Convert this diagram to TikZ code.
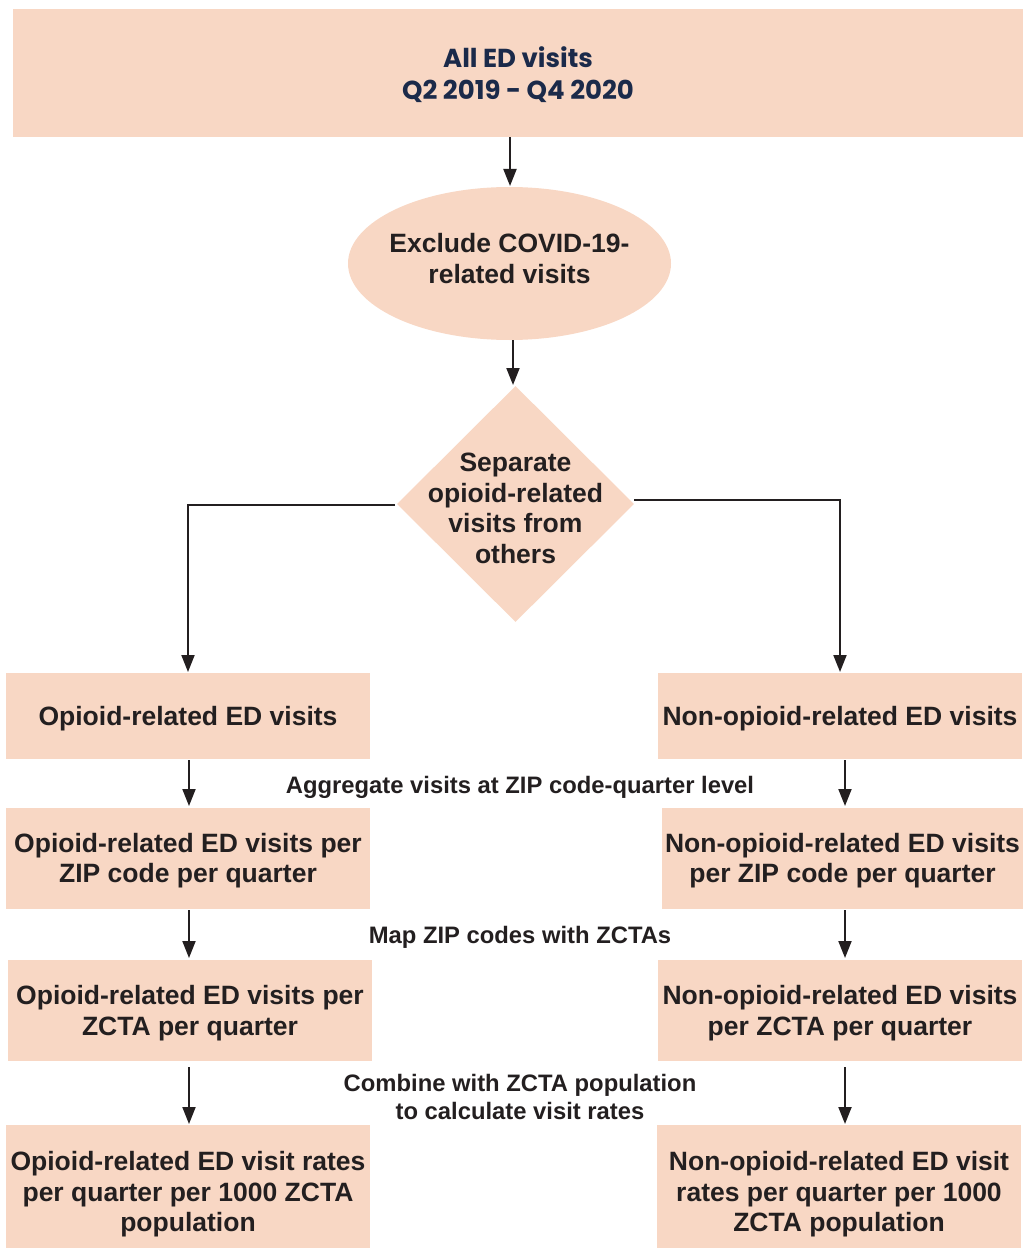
\documentclass[tikz,border=0pt]{standalone}
\usepackage{fontspec}
\setmainfont{Liberation Sans}
\newfontfamily\popfont{Poppins}
\usetikzlibrary{arrows.meta,shapes.geometric}
\definecolor{boxfill}{HTML}{F8D7C4}
\definecolor{txt}{HTML}{231F20}
\definecolor{navy}{HTML}{1B2A4A}
\tikzset{
  boxfont/.style={font=\fontsize{26.5}{30.5}\selectfont\bfseries},
  flowbox/.style={fill=boxfill, draw=none, inner sep=0pt, align=center, text=txt,
    text depth=0pt, boxfont},
  shapefill/.style={fill=boxfill, draw=none, inner sep=0pt},
  shapetext/.style={inner sep=0pt, align=center, text=txt, boxfont},
  steplabel/.style={inner sep=0pt, align=center, text=txt,
    font=\fontsize{23.8}{28}\selectfont\bfseries},
  flowarrow/.style={draw=txt, line width=2pt, -{Triangle[length=17pt,width=13pt]}}
}
\begin{document}
\begin{tikzpicture}[x=1pt,y=-1pt]
\useasboundingbox (0,0) rectangle (1023,1249);
% top box
\node[flowbox, minimum width=1010pt, minimum height=128pt, text=navy,
  font=\fontsize{26}{31.5}\selectfont\popfont\bfseries] (top) at (518,73) {All ED visits\\Q2 2019 - Q4 2020};
% ellipse
\node[shapefill, ellipse, minimum width=323pt, minimum height=153pt] (excl) at (509.5,263.5) {};
\node[shapetext] (excltext) at (509.5,258.5) {Exclude COVID-19-\\related visits};
% diamond
\node[shapefill, diamond, minimum width=237pt, minimum height=236pt] (sep) at (515.5,504) {};
\node[shapetext] (septext) at (515.5,508.5) {Separate\\opioid-related\\visits from\\others};
% left column
\node[flowbox, minimum width=364pt, minimum height=86pt] (l1) at (188,716) {Opioid-related ED visits};
\node[flowbox, minimum width=364pt, minimum height=101pt] (l2) at (188,858.5) {};
\node[shapetext] (l2text) at (188,860.5) {Opioid-related ED visits per\\ZIP code per quarter};
\node[flowbox, minimum width=364pt, minimum height=101pt] (l3) at (190,1010.5) {Opioid-related ED visits per\\ZCTA per quarter};
\node[flowbox, minimum width=364pt, minimum height=123pt] (l4) at (188,1186.5) {};
\node[shapetext] (l4text) at (188,1194.5) {Opioid-related ED visit rates\\per quarter per 1000 ZCTA\\population};
% right column
\node[flowbox, minimum width=364pt, minimum height=86pt] (r1) at (840,716) {Non-opioid-related ED visits};
\node[flowbox, minimum width=361pt, minimum height=101pt] (r2) at (842.5,858.5) {};
\node[shapetext] (r2text) at (842.5,860.5) {Non-opioid-related ED visits\\per ZIP code per quarter};
\node[flowbox, minimum width=364pt, minimum height=101pt] (r3) at (840,1010.5) {Non-opioid-related ED visits\\per ZCTA per quarter};
\node[flowbox, minimum width=364pt, minimum height=123pt] (r4) at (839,1186.5) {};
\node[shapetext] (r4text) at (839,1194.5) {Non-opioid-related ED visit\\rates per quarter per 1000\\ZCTA population};
% step labels
\node[steplabel] (agg) at (520,787.5) {Aggregate visits at ZIP code-quarter level};
\node[steplabel] (map) at (520,937) {Map ZIP codes with ZCTAs};
\node[steplabel] (comb) at (520,1096.5) {Combine with ZCTA population\\to calculate visit rates};
% connectors
\coordinate (dl) at (395,505);
\coordinate (dr) at (634,500);
\draw[flowarrow] (top.south -| 510,0) -- (510,186);
\draw[flowarrow] (513,340) -- (513,385);
\draw[flowarrow] (dl) -- (188,505) -- (188,672);
\draw[flowarrow] (dr) -- (840,500) -- (840,672);
\draw[flowarrow] (189,760) -- (189,806);
\draw[flowarrow] (189,910) -- (189,958);
\draw[flowarrow] (189,1067) -- (189,1124);
\draw[flowarrow] (845,760) -- (845,806);
\draw[flowarrow] (845,910) -- (845,958);
\draw[flowarrow] (845,1067) -- (845,1124);
\end{tikzpicture}
\end{document}
